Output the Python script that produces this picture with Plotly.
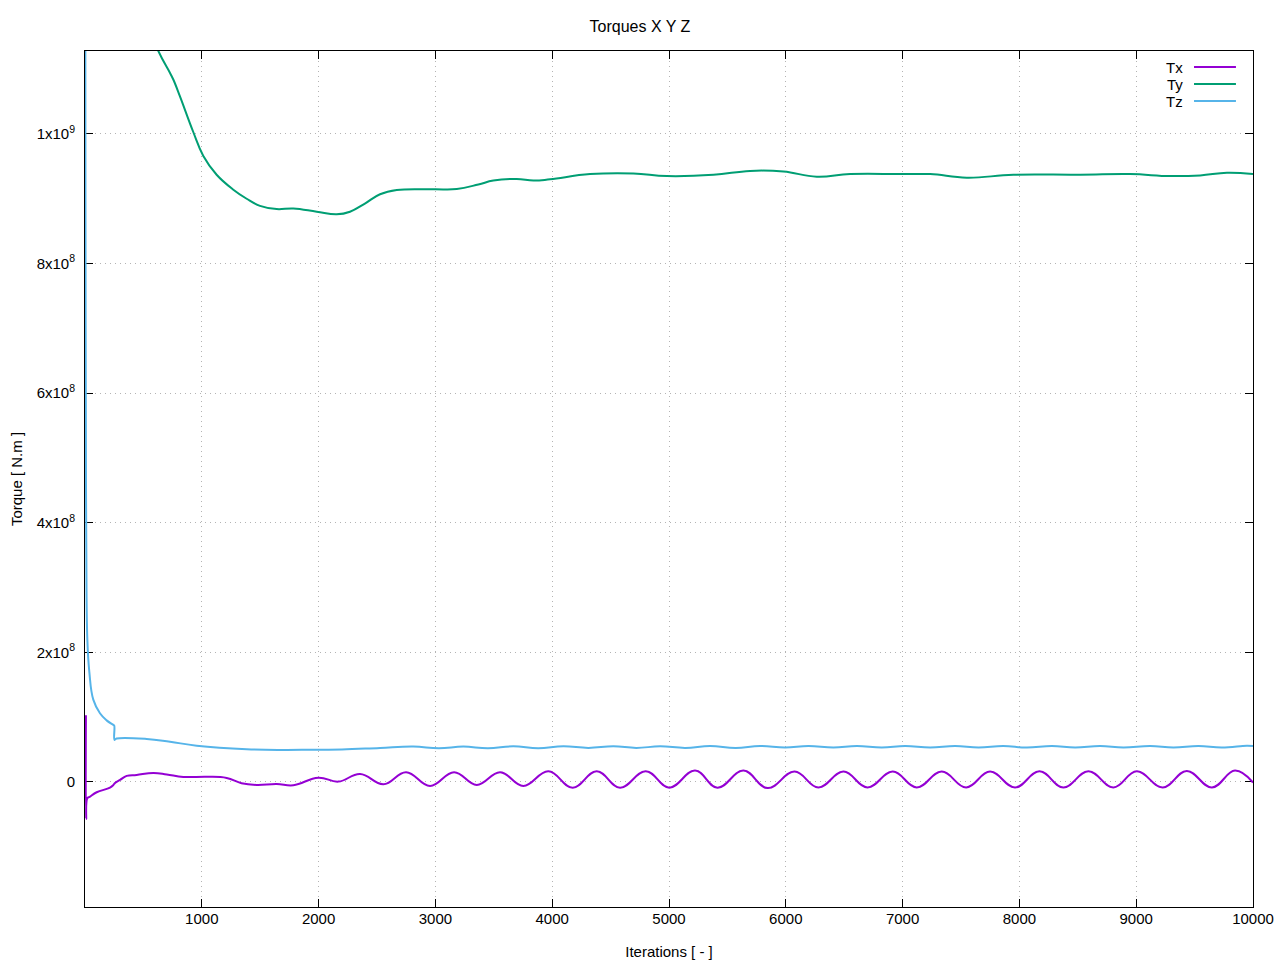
import plotly.graph_objects as go

# ---------------- data ----------------
tx_iter = [8, 10, 20, 40, 100, 214, 243, 257, 300, 357, 442, 585, 700, 842, 1042, 1213,
           1340, 1470, 1641, 1784, 1998, 2169, 2355, 2555, 2749, 2954, 3160, 3354, 3554,
           3753, 3967, 4176, 4381, 4581, 4801, 5003, 5223, 5415, 5637, 5845, 6075, 6279,
           6494, 6699, 6916, 7121, 7335, 7544, 7749, 7963, 8172, 8377, 8591, 8805, 9005,
           9228, 9433, 9648, 9846, 10000]
tx_vals = [1.03e8, -5.7e7, -2.5e7, -2.3e7, -1.59e7, -8.8e6, -4.6e6, -1.5e6, 3.1e6, 9.3e6,
           1.08e7, 1.39e7, 1.16e7, 7.7e6, 8.0e6, 6.2e6, -2.0e6, -4.6e6, -3.1e6, -5.1e6,
           6.6e6, 0.5e6, 1.23e7, -3.5e6, 1.5e7, -6.2e6, 1.5e7, -4.6e6, 1.5e7, -6.2e6,
           1.65e7, -8.8e6, 1.65e7, -8.8e6, 1.65e7, -8.8e6, 1.75e7, -8.8e6, 1.75e7, -9.5e6,
           1.6e7, -8.5e6, 1.6e7, -8.5e6, 1.6e7, -8.5e6, 1.6e7, -8.5e6, 1.6e7, -8.5e6,
           1.65e7, -8.5e6, 1.65e7, -8.5e6, 1.65e7, -8.5e6, 1.7e7, -8.5e6, 1.75e7, -1.0e6]

ty_iter = [1, 200, 400, 628, 728, 756, 813, 927, 1013, 1127, 1270, 1384, 1498, 1641, 1784,
           1984, 2155, 2269, 2400, 2526, 2669, 2983, 3183, 3368, 3496, 3696, 3839, 3982,
           4324, 4695, 4981, 5381, 5694, 5980, 6265, 6551, 6979, 7236, 7550, 7949, 8520,
           8948, 9291, 9548, 9777, 10000]
ty_vals = [2.5e9, 1.45e9, 1.23e9, 1.128e9, 1.094e9, 1.084e9, 1.058e9, 1.003e9, 0.966e9,
           0.937e9, 0.914e9, 0.900e9, 0.889e9, 0.884e9, 0.885e9, 0.880e9, 0.876e9, 0.880e9,
           0.893e9, 0.907e9, 0.9135e9, 0.9146e9, 0.915e9, 0.922e9, 0.928e9, 0.9306e9,
           0.928e9, 0.930e9, 0.938e9, 0.939e9, 0.935e9, 0.937e9, 0.943e9, 0.942e9, 0.934e9,
           0.938e9, 0.938e9, 0.938e9, 0.9325e9, 0.937e9, 0.937e9, 0.938e9, 0.935e9, 0.936e9,
           0.940e9, 0.938e9]

tz_iter = [1, 4, 7, 11, 20, 37, 71, 128, 185, 242, 250, 253, 270, 528, 728, 956, 1385,
           1700, 1955, 2200, 2526, 2811, 3030, 3239, 3450, 3667, 3880, 4096, 4310, 4524,
           4720, 4924, 5140, 5352, 5570, 5780, 5994, 6194, 6408, 6608, 6822, 7022, 7236,
           7450, 7650, 7861, 8064, 8278, 8477, 8691, 8891, 9119, 9319, 9533, 9733, 9947,
           10000]
tz_vals = [1.6e9, 9.0e8, 5.9e8, 3.7e8, 2.2e8, 1.7e8, 1.27e8, 1.06e8, 9.5e7, 8.8e7, 8.7e7,
           6.5e7, 6.7e7, 6.64e7, 6.2e7, 5.6e7, 5.05e7, 4.94e7, 4.98e7, 5.0e7, 5.25e7,
           5.45e7, 5.2e7, 5.45e7, 5.2e7, 5.5e7, 5.2e7, 5.5e7, 5.25e7, 5.5e7, 5.25e7,
           5.5e7, 5.25e7, 5.55e7, 5.25e7, 5.55e7, 5.3e7, 5.55e7, 5.3e7, 5.55e7, 5.3e7,
           5.55e7, 5.3e7, 5.55e7, 5.3e7, 5.55e7, 5.3e7, 5.55e7, 5.3e7, 5.55e7, 5.3e7,
           5.55e7, 5.3e7, 5.55e7, 5.3e7, 5.6e7, 5.55e7]

series_names = ["Tx", "Ty", "Tz"]
series_colors = ["#9400d3", "#009e73", "#56b4e9"]

x_tickvals = [1000, 2000, 3000, 4000, 5000, 6000, 7000, 8000, 9000, 10000]
x_ticktext = ["1000", "2000", "3000", "4000", "5000", "6000", "7000", "8000", "9000", "10000"]
y_tickvals = [0, 2e8, 4e8, 6e8, 8e8, 1e9]
y_ticktext = ["0", "2x10<sup>8</sup>", "4x10<sup>8</sup>", "6x10<sup>8</sup>",
              "8x10<sup>8</sup>", "1x10<sup>9</sup>"]

# ---------------- figure ----------------
FONT = "Liberation Sans, Arial, sans-serif"
fig = go.Figure()
for name, xs, ys, col in zip(series_names, [tx_iter, ty_iter, tz_iter],
                             [tx_vals, ty_vals, tz_vals], series_colors):
    fig.add_trace(go.Scatter(x=xs, y=ys, mode="lines", name=name,
                             line=dict(color=col, width=2, shape="spline", smoothing=1.2),
                             showlegend=False))

# gnuplot-style legend: label on the left, line sample on the right
for i, (name, col) in enumerate(zip(series_names, series_colors)):
    ypos = 0.9813 - i * 0.0199
    fig.add_shape(type="line", xref="paper", yref="paper", x0=0.9495, x1=0.9854,
                  y0=ypos, y1=ypos, line=dict(color=col, width=2))
    fig.add_annotation(xref="paper", yref="paper", x=0.9415, y=ypos, text=name,
                       showarrow=False, xanchor="right", yanchor="middle",
                       font=dict(family=FONT, size=15, color="black"))

axis_common = dict(showline=True, linecolor="black", linewidth=1, mirror="ticks",
                   ticks="inside", ticklen=8, tickcolor="black", zeroline=False,
                   showgrid=True, gridcolor="#b4b4b4", gridwidth=1, griddash="1px,4px",
                   automargin=False, layer="below traces",
                   tickfont=dict(family=FONT, size=15, color="black"))

fig.update_layout(
    width=1280, height=960,
    paper_bgcolor="white", plot_bgcolor="white",
    margin=dict(l=85, r=27, t=51, b=53),
    title=dict(text="Torques X Y Z", x=0.5, xanchor="center", y=0.973, yanchor="middle",
               font=dict(family=FONT, size=16, color="black")),
    xaxis=dict(range=[0, 10000], tickvals=x_tickvals, ticktext=x_ticktext,
               ticklabelstandoff=-2,
               title=dict(text="Iterations [ - ]", standoff=20,
                          font=dict(family=FONT, size=15, color="black")),
               **axis_common),
    yaxis=dict(range=[-1.93e8, 1.128e9], tickvals=y_tickvals, ticktext=y_ticktext,
               ticklabelstandoff=6,
               title=dict(text="Torque [ N.m ]", standoff=10,
                          font=dict(family=FONT, size=15, color="black")),
               **axis_common),
)

fig.write_html("out.html", config={"displayModeBar": False},
               post_script="document.body.style.margin='0';")
